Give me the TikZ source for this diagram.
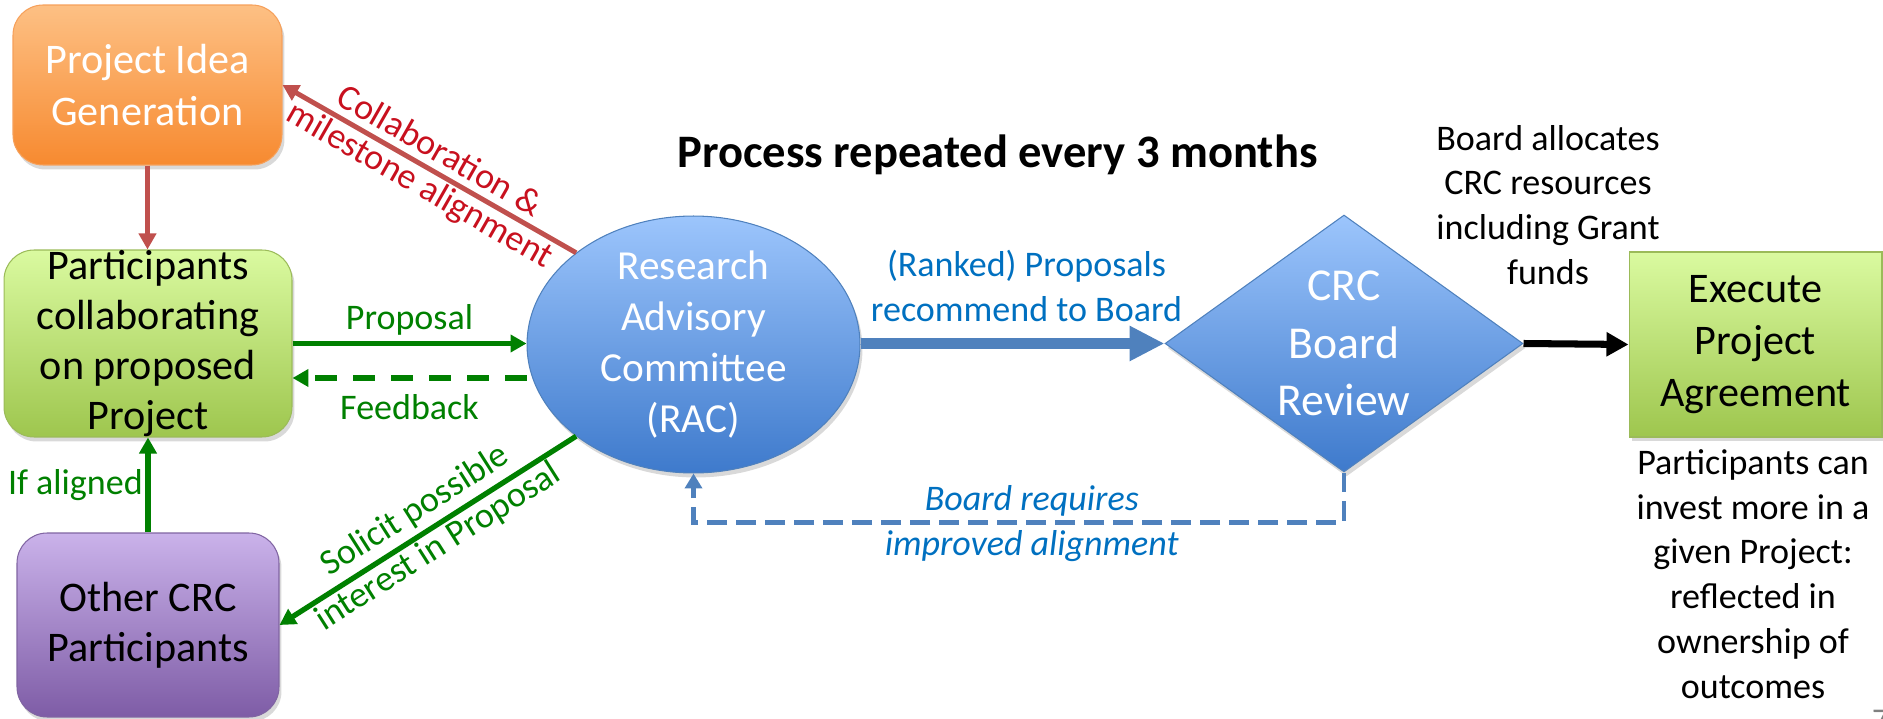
\documentclass[tikz,border=0pt]{standalone}
\usepackage{fontspec}
\setmainfont{Carlito}
\usetikzlibrary{shapes.geometric, arrows.meta, shadows}

\definecolor{naranjaA}{RGB}{253,192,132}
\definecolor{naranjaB}{RGB}{247,138,48}
\definecolor{naranjaBorde}{RGB}{246,160,90}
\definecolor{verdeA}{RGB}{218,250,160}
\definecolor{verdeB}{RGB}{158,198,78}
\definecolor{verdeBorde}{RGB}{155,187,89}
\definecolor{moradoA}{RGB}{202,178,234}
\definecolor{moradoB}{RGB}{126,92,166}
\definecolor{moradoBorde}{RGB}{128,100,162}
\definecolor{azulA}{RGB}{156,197,252}
\definecolor{azulB}{RGB}{62,122,204}
\definecolor{azulBorde}{RGB}{79,129,189}
\definecolor{rojoFlecha}{RGB}{192,80,77}
\definecolor{rojoTexto}{RGB}{200,16,30}
\definecolor{verdeFlecha}{RGB}{0,128,0}
\definecolor{azulTexto}{RGB}{0,112,192}

\tikzset{
  sombra/.style={drop shadow={opacity=0.3, shadow xshift=0.05cm, shadow yshift=-0.09cm}},
  caja/.style={rectangle, rounded corners=0.6cm, line width=0.6pt, align=center,
    inner sep=0pt, sombra, font=\fontsize{24}{29.5}\selectfont},
  cajanaranja/.style={caja, top color=naranjaA, bottom color=naranjaB, draw=naranjaBorde, text=white},
  cajaverde/.style={caja, top color=verdeA, bottom color=verdeB, draw=verdeBorde},
  cajamorada/.style={caja, top color=moradoA, bottom color=moradoB, draw=moradoBorde},
  elipse/.style={ellipse, draw=azulBorde, line width=0.6pt, top color=azulA, bottom color=azulB,
    text=white, align=center, inner xsep=0pt, inner ysep=-0.3cm, sombra,
    font=\fontsize{23.5}{29}\selectfont},
  rombo/.style={diamond, aspect=1.393, draw=azulBorde, line width=0.6pt, top color=azulA,
    bottom color=azulB, text=white, align=center, inner sep=0pt, sombra,
    font=\fontsize{26}{32.6}\selectfont},
  etiqueta/.style={font=\fontsize{20.5}{25.5}\selectfont},
  flecharoja/.style={draw=rojoFlecha, line width=2.8pt, -{Triangle[length=0.32cm,width=0.34cm]}},
  flechaverde/.style={draw=verdeFlecha, line width=3pt, -{Triangle[length=0.32cm,width=0.34cm]}},
  flechaverdeguion/.style={flechaverde, dash pattern=on 0.44cm off 0.32cm},
  flechaazul/.style={draw=azulBorde, line width=6.8pt, -{Triangle[length=0.7cm,width=0.66cm]}},
  flechaazulguion/.style={draw=azulBorde, line width=2.8pt, dash pattern=on 0.4cm off 0.18cm,
    -{Triangle[length=0.3cm,width=0.34cm]}},
  flechanegra/.style={draw=black, line width=4pt, -{Triangle[length=0.44cm,width=0.46cm]}},
}

\begin{document}
\begin{tikzpicture}[x=0.02cm, y=-0.02cm]
    \useasboundingbox (0,0) rectangle (1883,719);

    % Cajas de la izquierda
    \node[cajanaranja, minimum width=5.38cm, minimum height=3.2cm] (idea) at (147.5,85) {Project Idea\\Generation};
    \node[cajaverde, minimum width=5.76cm, minimum height=3.74cm, font=\fontsize{24}{28.4}\selectfont] (partic) at (148,343.5) {Participants\\collaborating\\on proposed\\Project};
    \node[cajamorada, minimum width=5.24cm, minimum height=3.68cm, font=\fontsize{24}{28.4}\selectfont] (otros) at (148,625) {Other CRC\\Participants};

    % Comité y junta
    \node[elipse, minimum width=6.66cm, minimum height=5.14cm] (rac) at (693.5,344.5) {Research\\Advisory\\Committee\\(RAC)};
    \node[rombo, minimum width=7.16cm, minimum height=5.14cm] (junta) at (1344,343.5) {CRC\\Board\\Review};
    \node[cajaverde, sharp corners, minimum width=5.06cm, minimum height=3.7cm] (ejecutar) at (1755.5,344.5) {Execute\\Project\\Agreement};

    % Textos sueltos
    \node[anchor=base, font=\fontsize{26.5}{32}\selectfont\bfseries] (titulo) at (997.5,168) {Process repeated every 3 months};
    \node[etiqueta, align=center] (asigna) at (1548,205) {Board allocates\\CRC resources\\including Grant\\funds};
    \node[etiqueta, align=center] (invierte) at (1753,574) {Participants can\\invest more in a\\given Project:\\reflected in\\ownership of\\outcomes};
    \node[anchor=base west, text=gray, font=\fontsize{18}{20}\selectfont] (pagina) at (1866,730) {7};

    % Flechas rojas
    \draw[flecharoja] (idea.south) -- (idea.south |- partic.north);
    \draw[flecharoja] (rac.142) --
        node[sloped, above, etiqueta, text=rojoTexto, inner sep=4pt] {Collaboration \&}
        node[sloped, below, etiqueta, text=rojoTexto, inner sep=1pt] {milestone alignment} (idea.east);

    % Flechas verdes
    \draw[flechaverde] (partic.east) -- node[above, etiqueta, text=verdeFlecha, inner sep=3pt] {Proposal} (partic.east -| rac.west);
    \draw[flechaverdeguion] ([yshift=-0.69cm]partic.east -| rac.west) -- node[below, etiqueta, text=verdeFlecha, inner sep=8pt] {Feedback} ([yshift=-0.69cm]partic.east);
    \draw[flechaverde] (otros.north) -- node[left, etiqueta, text=verdeFlecha, inner sep=1.5pt] {If aligned} (otros.north |- partic.south);
    \draw[flechaverde] (rac.218) --
        node[sloped, above, etiqueta, text=verdeFlecha, inner sep=3pt] {Solicit possible}
        node[sloped, below, etiqueta, text=verdeFlecha, inner sep=1pt] {interest in Proposal} (otros.east);

    % Flechas azules y negra
    \draw[flechaazul] (junta.west -| rac.east) -- node[pos=0.546, above, etiqueta, align=center, text=azulTexto, inner sep=9pt] {(Ranked) Proposals\\recommend to Board} (junta.west);
    \draw[flechanegra] (junta.east) -- (ejecutar.west);
    \draw[flechaazulguion] (junta.south) -- ++(0,50) -|
        node[pos=0.24, above, etiqueta, text=azulTexto, inner sep=2pt] {\itshape Board requires}
        node[pos=0.24, below, etiqueta, text=azulTexto, inner sep=3pt] {\itshape improved alignment} (rac.south);
\end{tikzpicture}
\end{document}
